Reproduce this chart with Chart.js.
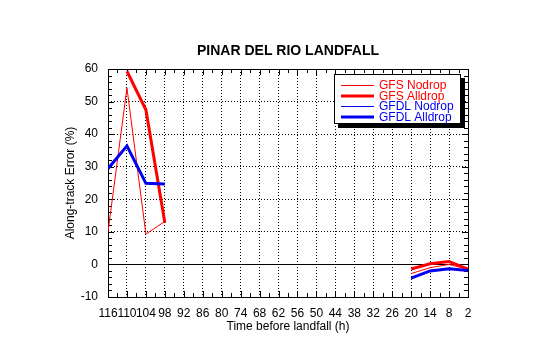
<!DOCTYPE html>
<html>
<head>
<meta charset="utf-8">
<title>Pinar del Rio landfall</title>
<script src="https://cdn.jsdelivr.net/npm/chart.js@4.4.1/dist/chart.umd.min.js"></script>
<style>
  html, body { margin: 0; padding: 0; background: #fff; }
  #wrap { width: 540px; height: 344px; }
</style>
</head>
<body>
<div id="wrap"><canvas id="errChart" width="540" height="344"></canvas></div>
<script>
// lead time before landfall (h), one slot every 6 h; null = no forecast
const hours = [116, 110, 104, 98, 92, 86, 80, 74, 68, 62, 56, 50, 44, 38, 32, 26, 20, 14, 8, 2];

const gfsNodrop   = [10.0, 54.2,  9.3, 13.2, null, null, null, null, null, null, null, null, null, null, null, null, -2.8, -1.0,  0.0, -1.5];
const gfsAlldrop  = [null, 59.3, 47.5, 12.8, null, null, null, null, null, null, null, null, null, null, null, null, -1.4,  0.2,  0.9, -1.4];
const gfdlNodrop  = [29.4, 36.4, 24.9, 24.7, null, null, null, null, null, null, null, null, null, null, null, null, -4.2, -2.0, -1.3, -1.9];
const gfdlAlldrop = [29.4, 36.4, 24.9, 24.7, null, null, null, null, null, null, null, null, null, null, null, null, -4.2, -2.0, -1.3, -1.9];

const seriesNames = ['GFS Nodrop', 'GFS Alldrop', 'GFDL Nodrop', 'GFDL Alldrop'];

const xMin = 2, xMax = 116, xStep = 6;
const yMin = -10, yMax = 60, yStep = 10;

const RED = '#ff0000';
const BLUE = '#0000f0';
const FONT = "'Liberation Sans', Arial, Helvetica, sans-serif";

Chart.defaults.font.family = FONT;
Chart.defaults.font.size = 12;
Chart.defaults.color = '#000';

function pts(vals) {
    return hours.map((h, i) => ({ x: h, y: vals[i] }));
}

// frame, zero line and the small inward ticks on all four sides
const framePlugin = {
    id: 'frame',
    beforeDatasetsDraw(chart) {
        const { ctx, chartArea: a, scales: { x, y } } = chart;
        ctx.save();
        ctx.strokeStyle = '#000';
        ctx.lineWidth = 1;

        const y0 = Math.round(y.getPixelForValue(0)) + 0.5;
        ctx.beginPath();
        ctx.moveTo(a.left, y0);
        ctx.lineTo(a.right, y0);

        for (let v = yMin; v <= yMax; v += 2) {
            const py = Math.round(y.getPixelForValue(v)) + 0.5;
            const len = v % yStep === 0 ? 6 : 4;
            ctx.moveTo(a.left, py);
            ctx.lineTo(a.left + len, py);
            ctx.moveTo(a.right, py);
            ctx.lineTo(a.right - len, py);
        }
        for (let h = xMin; h <= xMax; h += xStep / 2) {
            const px = Math.round(x.getPixelForValue(h)) + 0.5;
            const len = (h - xMin) % xStep === 0 ? 6 : 4;
            ctx.moveTo(px, a.bottom);
            ctx.lineTo(px, a.bottom - len);
            ctx.moveTo(px, a.top);
            ctx.lineTo(px, a.top + len);
        }
        ctx.stroke();

        ctx.strokeRect(Math.round(a.left) + 0.5, Math.round(a.top) + 0.5,
                       Math.round(a.right - a.left), Math.round(a.bottom - a.top));
        ctx.restore();
    }
};

// title and the boxed legend with a drop shadow
const labelsPlugin = {
    id: 'labels',
    afterDraw(chart) {
        const { ctx, chartArea: a } = chart;
        ctx.save();

        ctx.fillStyle = '#000';
        ctx.font = 'bold 14px ' + FONT;
        ctx.textAlign = 'center';
        ctx.textBaseline = 'middle';
        ctx.fillText('PINAR DEL RIO LANDFALL', (a.left + a.right) / 2, a.top - 18);

        const w = 126, h = 49;
        const left = Math.round(a.right - 134), top = Math.round(a.top + 5);
        ctx.fillStyle = '#000';
        ctx.fillRect(left + 4, top + 4, w + 1, h + 1);
        ctx.fillStyle = '#fff';
        ctx.fillRect(left, top, w, h);
        ctx.strokeStyle = '#000';
        ctx.lineWidth = 1;
        ctx.strokeRect(left + 0.5, top + 0.5, w, h);

        ctx.font = '12px ' + FONT;
        ctx.textAlign = 'left';
        chart.data.datasets.forEach((ds, i) => {
            const ry = top + 11.5 + i * 10.5;
            ctx.strokeStyle = ds.borderColor;
            ctx.lineWidth = ds.borderWidth;
            ctx.beginPath();
            ctx.moveTo(left + 7, ry);
            ctx.lineTo(left + 40, ry);
            ctx.stroke();
            ctx.fillStyle = ds.borderColor;
            ctx.fillText(ds.label, left + 45, ry + 0.5);
        });
        ctx.restore();
    }
};

const ctx = document.getElementById('errChart').getContext('2d');
const errChart = new Chart(ctx, {
    type: 'line',
    data: {
        datasets: [
            { label: seriesNames[0], data: pts(gfsNodrop),   borderColor: RED,  borderWidth: 1, order: 3 },
            { label: seriesNames[1], data: pts(gfsAlldrop),  borderColor: RED,  borderWidth: 3, order: 2 },
            { label: seriesNames[2], data: pts(gfdlNodrop),  borderColor: BLUE, borderWidth: 1, order: 1 },
            { label: seriesNames[3], data: pts(gfdlAlldrop), borderColor: BLUE, borderWidth: 3, order: 0 }
        ]
    },
    options: {
        responsive: false,
        animation: false,
        events: [],
        layout: { padding: { left: 0, right: 72, top: 69, bottom: 0 } },
        elements: {
            point: { radius: 0 },
            line: { tension: 0, borderJoinStyle: 'miter' }
        },
        plugins: {
            legend: { display: false },
            title: { display: false },
            tooltip: { enabled: false }
        },
        scales: {
            x: {
                type: 'linear',
                reverse: true,
                min: xMin,
                max: xMax,
                grid: { color: '#000', lineWidth: 1, drawTicks: false },
                border: { display: false, dash: [1, 2] },
                ticks: { stepSize: xStep, autoSkip: false, maxRotation: 0, padding: 9 },
                title: { display: true, text: 'Time before landfall (h)', padding: { top: 0, bottom: 10 } },
                afterFit(scale) { scale.height = 47; }
            },
            y: {
                min: yMin,
                max: yMax,
                grid: { color: '#000', lineWidth: 1, drawTicks: false },
                border: { display: false, dash: [1, 2] },
                ticks: { stepSize: yStep, padding: 10 },
                title: { display: true, text: 'Along-track Error (%)', padding: { top: 63, bottom: 0 } },
                afterFit(scale) { scale.width = 108; }
            }
        }
    },
    plugins: [framePlugin, labelsPlugin]
});
</script>
</body>
</html>
